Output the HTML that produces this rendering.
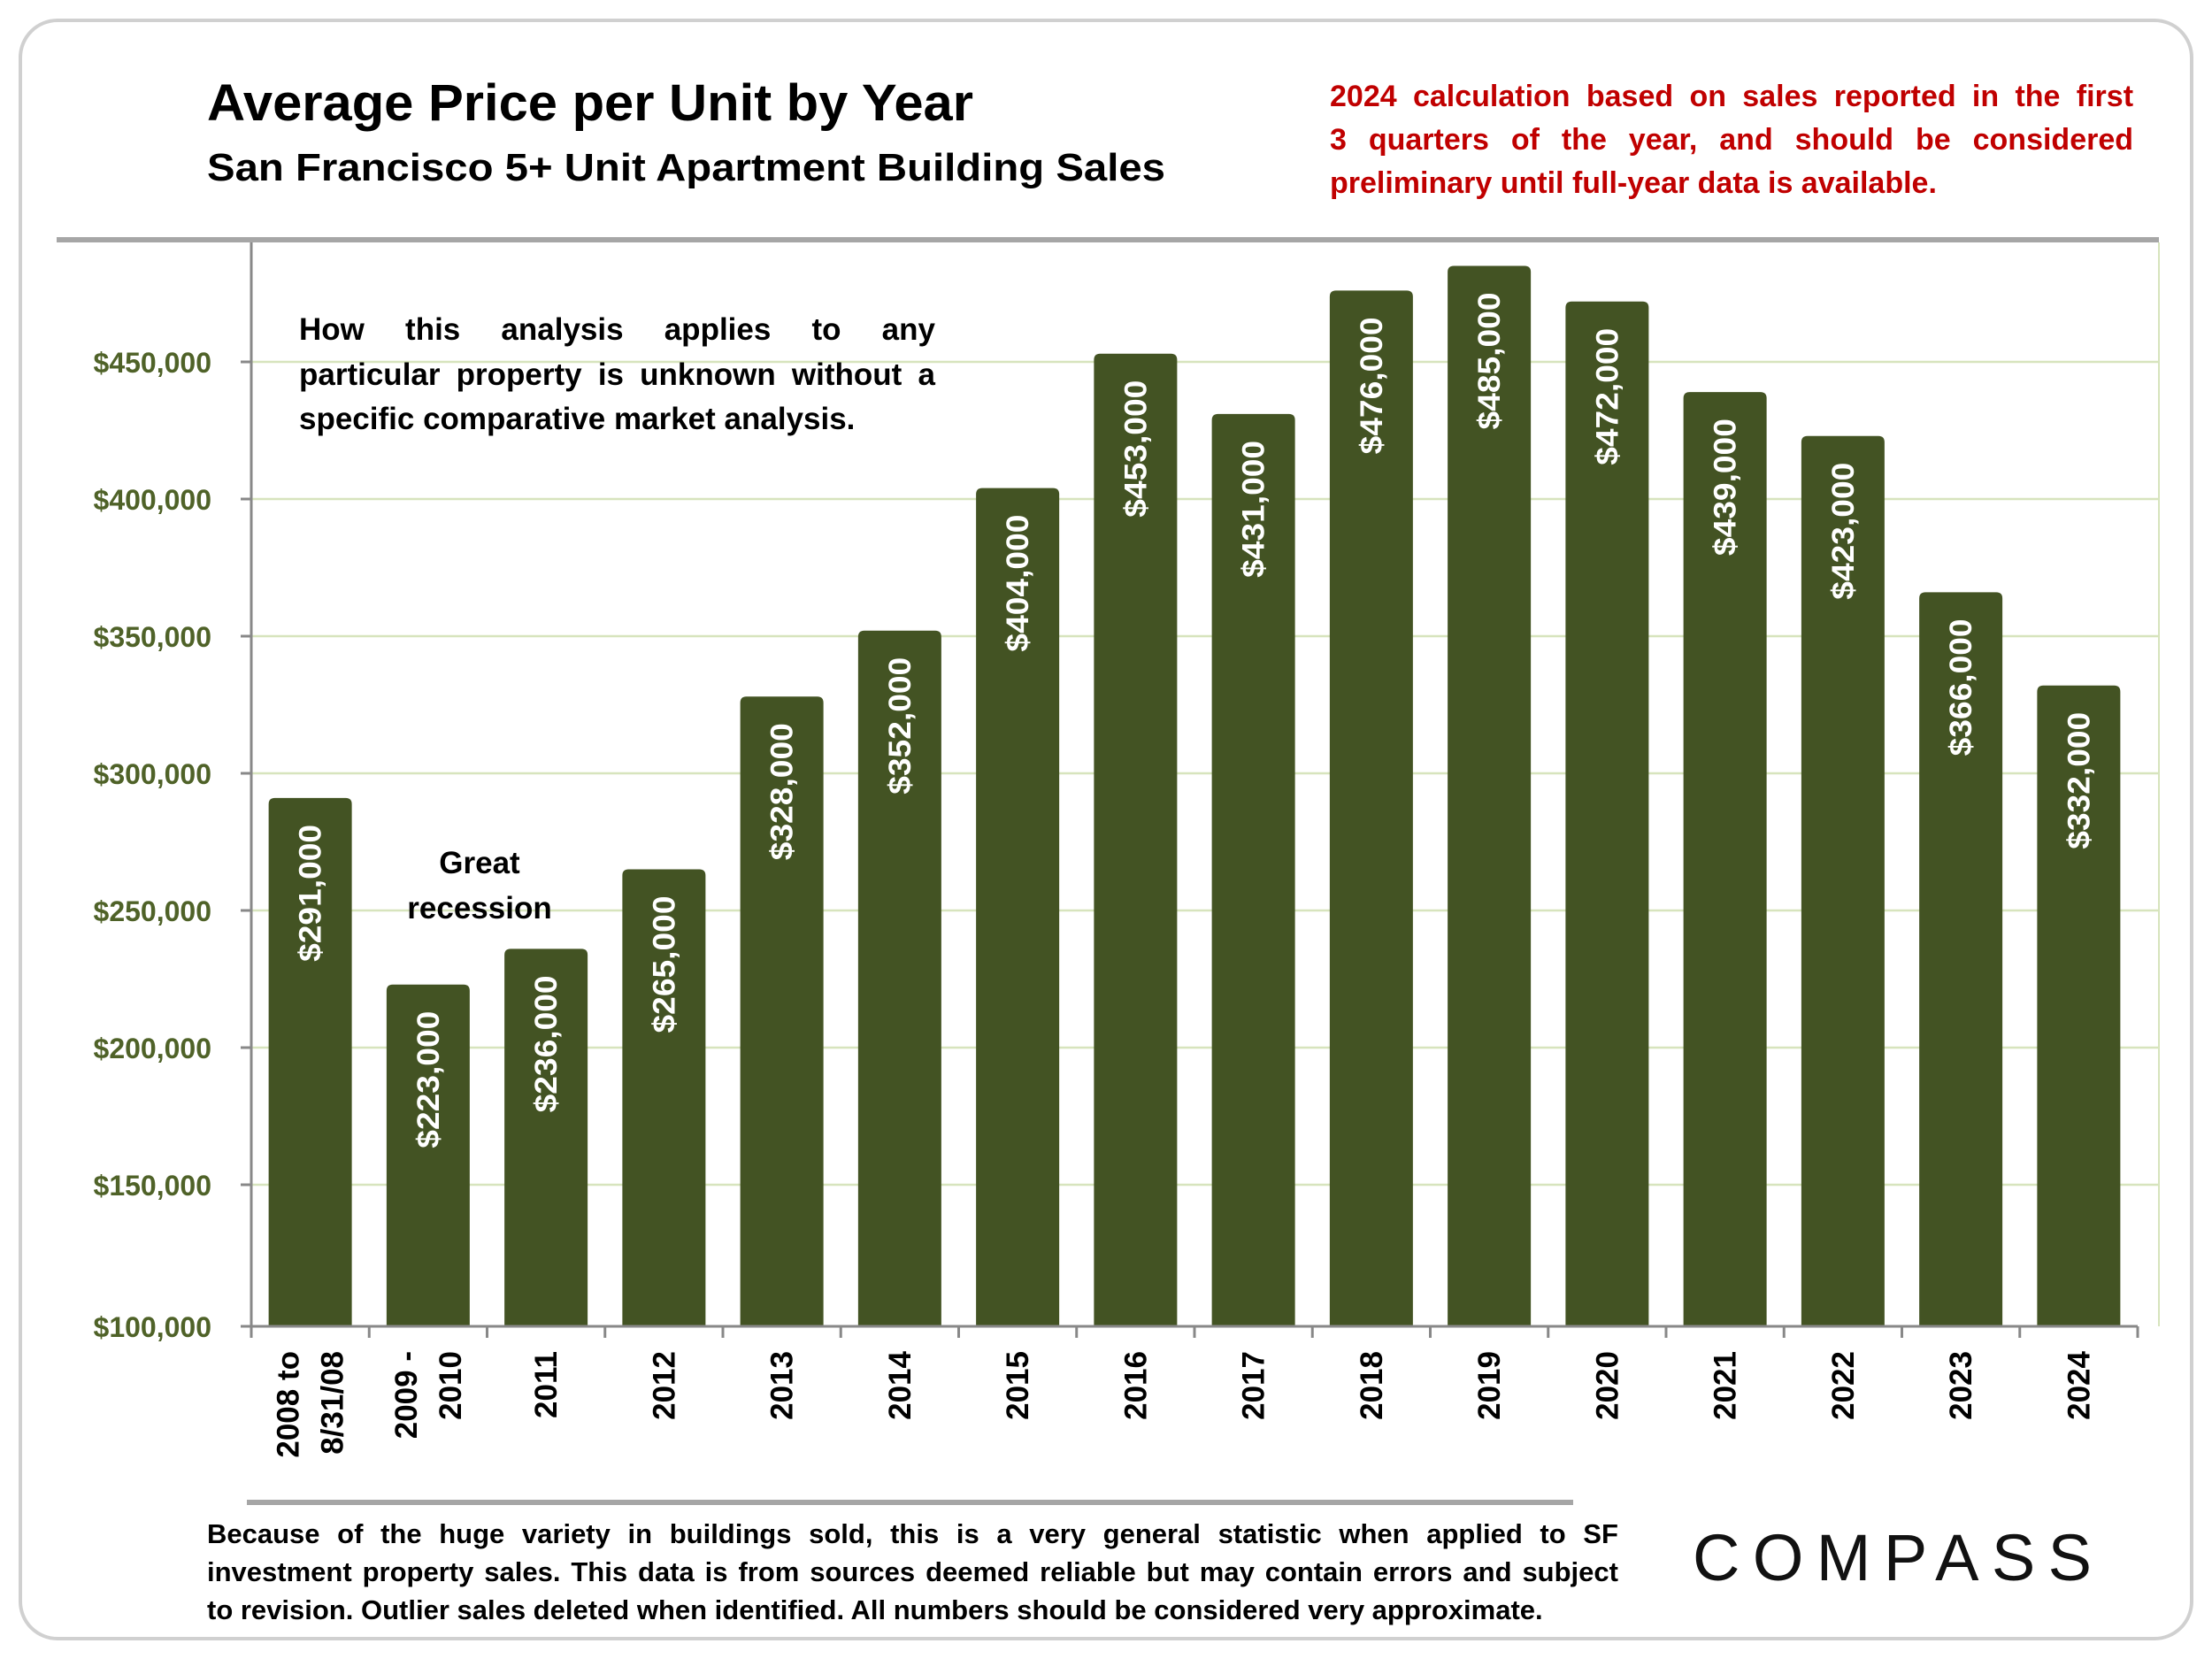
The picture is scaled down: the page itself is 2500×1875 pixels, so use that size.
<!DOCTYPE html>
<html><head><meta charset="utf-8"><style>
html,body{margin:0;padding:0;background:#fff}
svg{display:block}
text{font-family:"Liberation Sans",sans-serif;font-weight:bold}
</style></head><body>
<svg id="chart" width="2500" height="1875" viewBox="0 0 2500 1875" xmlns="http://www.w3.org/2000/svg">
<rect x="23" y="23" width="2454" height="1829" rx="42" fill="#fff" stroke="#d0d0d0" stroke-width="4"/>
<text x="234" y="136" font-size="58" textLength="866" lengthAdjust="spacingAndGlyphs">Average Price per Unit by Year</text>
<text x="234" y="204" font-size="44" textLength="1083" lengthAdjust="spacingAndGlyphs">San Francisco 5+ Unit Apartment Building Sales</text>
<g fill="#c00000" font-size="34">
<text x="1503" y="120" class="just" data-w="908">2024 calculation based on sales reported in the first</text>
<text x="1503" y="169" class="just" data-w="908">3 quarters of the year, and should be considered</text>
<text x="1503" y="218">preliminary until full-year data is available.</text>
</g>
<rect x="64" y="268" width="2376" height="6" fill="#a6a6a6"/>
<line x1="2440" y1="274" x2="2440" y2="1499" stroke="#d7e4bd" stroke-width="2"/>
<g id="grid"></g>
<g id="bars"></g>
<g id="axes"></g>
<g fill="#000" font-size="35">
<text x="338" y="384" class="just" data-w="719">How this analysis applies to any</text>
<text x="338" y="435" class="just" data-w="719">particular property is unknown without a</text>
<text x="338" y="485">specific comparative market analysis.</text>
</g>
<g fill="#000" font-size="35" text-anchor="middle">
<text x="542" y="987">Great</text>
<text x="542" y="1038">recession</text>
</g>
<rect x="279" y="1695" width="1499" height="6" fill="#a6a6a6"/>
<g fill="#000" font-size="31">
<text x="234" y="1744" class="just" data-w="1595">Because of the huge variety in buildings sold, this is a very general statistic when applied to SF</text>
<text x="234" y="1787" class="just" data-w="1595">investment property sales. This data is from sources deemed reliable but may contain errors and subject</text>
<text x="234" y="1830">to revision. Outlier sales deleted when identified. All numbers should be considered very approximate.</text>
</g>
<text x="1913" y="1786" font-size="74" style="font-weight:normal" fill="#111" textLength="451" lengthAdjust="spacing">COMPASS</text>
</svg>
<script>
const categories = [["2008 to","8/31/08"],["2009 -","2010"],["2011"],["2012"],["2013"],["2014"],["2015"],["2016"],["2017"],["2018"],["2019"],["2020"],["2021"],["2022"],["2023"],["2024"]];
const values = [291000,223000,236000,265000,328000,352000,404000,453000,431000,476000,485000,472000,439000,423000,366000,332000];
const valueLabels = ["$291,000","$223,000","$236,000","$265,000","$328,000","$352,000","$404,000","$453,000","$431,000","$476,000","$485,000","$472,000","$439,000","$423,000","$366,000","$332,000"];
const yTicks = [100000,150000,200000,250000,300000,350000,400000,450000];
const yTickLabels = ["$100,000","$150,000","$200,000","$250,000","$300,000","$350,000","$400,000","$450,000"];

const NS = "http://www.w3.org/2000/svg";
const X0 = 284, X1 = 2416, Y0 = 1499, YB = 1494, PX_PER = 3.1 / 1000;
function yScale(v){ return YB - (v - 100000) * PX_PER; }
const band = (X1 - X0) / categories.length;
function xCenter(i){ return X0 + band * (i + 0.5); }
function mk(tag, attrs, parent){ const e = document.createElementNS(NS, tag); for (const k in attrs) e.setAttribute(k, attrs[k]); parent.appendChild(e); return e; }

document.querySelectorAll('text.just').forEach(t => {
  const w = +t.getAttribute('data-w');
  const gaps = (t.textContent.match(/ /g) || []).length;
  const cur = t.getComputedTextLength();
  if (gaps) t.setAttribute('word-spacing', ((w - cur) / gaps).toFixed(2));
});

const grid = document.getElementById('grid');
const bars = document.getElementById('bars');
const axes = document.getElementById('axes');

yTicks.forEach((t, i) => {
  const y = i === 0 ? Y0 : yScale(t);
  if (i > 0) {
    const g = mk('line', {x1: X0, x2: 2440, y1: y, y2: y, stroke: '#d7e4bd', 'stroke-width': 2.5}, grid);
    
    
  }
  const tk = mk('line', {x1: X0 - 12, x2: X0, y1: y, y2: y, stroke: '#888', 'stroke-width': 3}, axes);
  
  
  const lb = mk('text', {x: 239, y: y + 12, 'text-anchor': 'end', 'font-size': 32, fill: '#4f6228'}, axes);
  lb.textContent = yTickLabels[i];
  
  
});

const bw = 94, r = 7;
values.forEach((v, i) => {
  const cx = xCenter(i), top = yScale(v), x = cx - bw / 2;
  const d = `M${x},${Y0} V${top + r} Q${x},${top} ${x + r},${top} H${x + bw - r} Q${x + bw},${top} ${x + bw},${top + r} V${Y0} Z`;
  const b = mk('path', {d: d, fill: '#435323'}, bars);
  
  
  const t = mk('text', {x: 0, y: 0, 'text-anchor': 'end', 'font-size': 35, fill: '#fff', textLength: 155, lengthAdjust: 'spacingAndGlyphs',
    transform: `translate(${cx + 12},${top + 30}) rotate(-90)`}, bars);
  t.textContent = valueLabels[i];
  
  
});

const ax = mk('line', {x1: X0, x2: X1, y1: Y0, y2: Y0, stroke: '#888', 'stroke-width': 3}, axes);


const ay = mk('line', {x1: X0, x2: X0, y1: 274, y2: Y0, stroke: '#888', 'stroke-width': 3}, axes);


for (let i = 0; i <= categories.length; i++) {
  const x = X0 + band * i;
  const tk = mk('line', {x1: x, x2: x, y1: Y0, y2: Y0 + 13, stroke: '#888', 'stroke-width': 3}, axes);
  
  
}
categories.forEach((lines, i) => {
  const cx = xCenter(i);
  lines.forEach((ln, j) => {
    const off = lines.length === 1 ? 12 : (j === 0 ? -13 : 37);
    const t = mk('text', {x: 0, y: 0, 'text-anchor': 'end', 'font-size': 35, fill: '#000',
      transform: `translate(${cx + off},1527) rotate(-90)`}, axes);
    t.textContent = ln;
    
    
  });
});
</script>
</body></html>
